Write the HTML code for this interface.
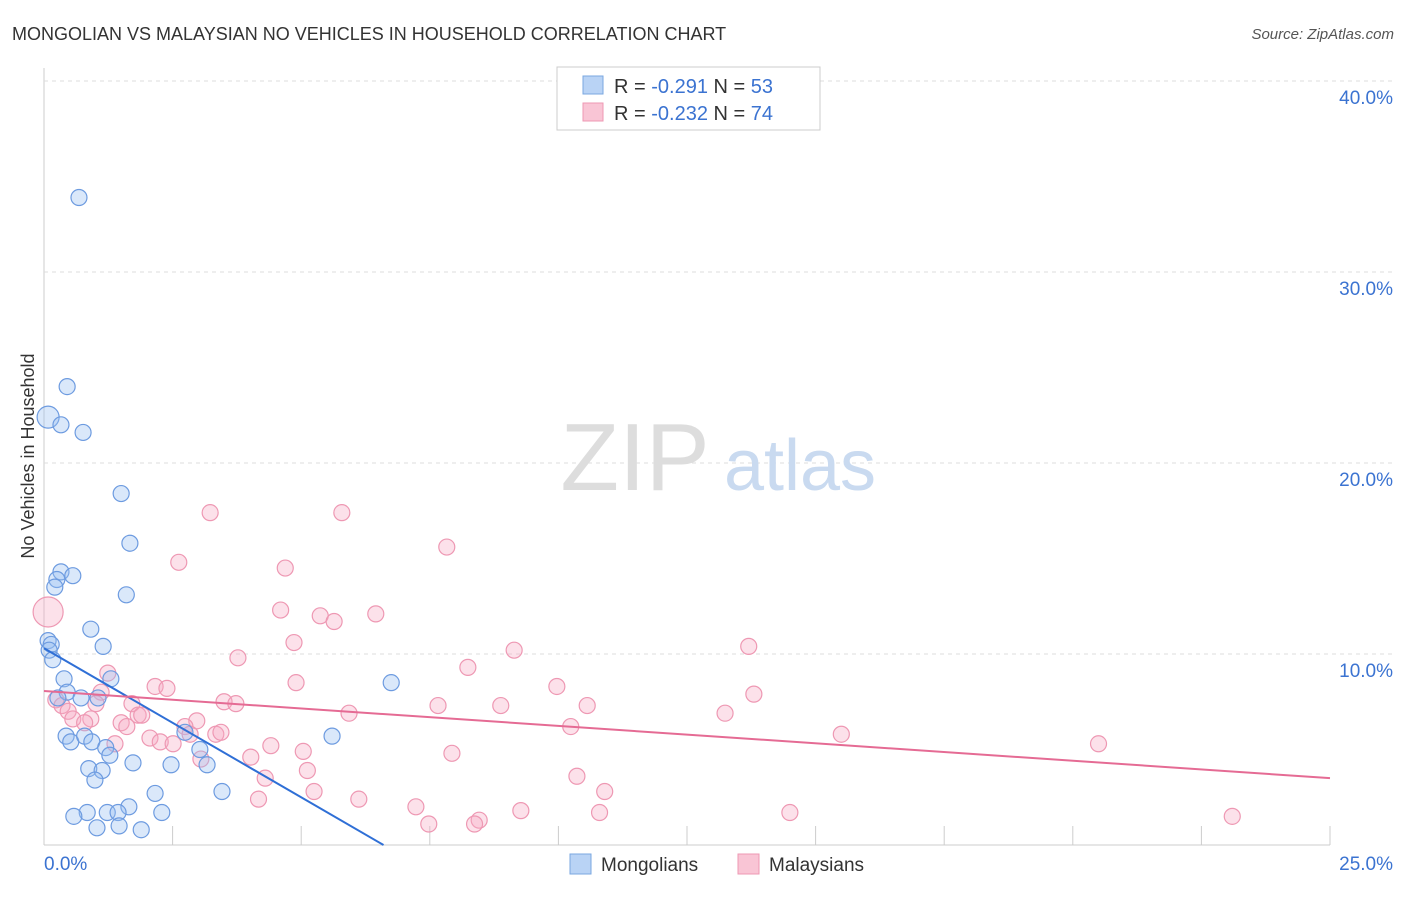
<!DOCTYPE html>
<html><head><meta charset="utf-8"><style>
body{margin:0;background:#fff;font-family:"Liberation Sans",sans-serif}
svg text{font-family:"Liberation Sans",sans-serif}
</style></head><body>
<svg id="c" width="1406" height="892">
<text x="12" y="40" font-size="18" fill="#333">MONGOLIAN VS MALAYSIAN NO VEHICLES IN HOUSEHOLD CORRELATION CHART</text>
<text x="1394" y="39" font-size="15" fill="#555" font-style="italic" text-anchor="end">Source: ZipAtlas.com</text>
<g id="grid"></g>
<text x="635" y="490" font-size="96" fill="#ddd" font-family="Liberation Serif" text-anchor="middle">ZIP</text>
<text x="800" y="490" font-size="72" fill="#c9daf0" text-anchor="middle">atlas</text>
<text transform="translate(34,456) rotate(-90)" font-size="18" fill="#333" text-anchor="middle">No Vehicles in Household</text>
<g id="pts"></g>
<g>
<rect x="557" y="67" width="263" height="63" fill="#fff" stroke="#ccc"/>
<rect x="583" y="76" width="20" height="18" fill="#b9d3f5" stroke="#7aa7e0"/>
<rect x="583" y="103" width="20" height="18" fill="#f9c5d5" stroke="#ee98b3"/>
<text x="614" y="93" font-size="20" fill="#333">R = <tspan fill="#3b73d1">-0.291</tspan>   N = <tspan fill="#3b73d1">53</tspan></text>
<text x="614" y="120" font-size="20" fill="#333">R = <tspan fill="#3b73d1">-0.232</tspan>   N = <tspan fill="#3b73d1">74</tspan></text>
</g>
<g>
<rect x="570" y="854" width="21" height="20" fill="#b9d3f5" stroke="#7aa7e0"/>
<text x="601" y="871" font-size="19" fill="#333">Mongolians</text>
<rect x="738" y="854" width="21" height="20" fill="#f9c5d5" stroke="#ee98b3"/>
<text x="769" y="871" font-size="19" fill="#333">Malaysians</text>
</g>
</svg>
<script>
const yTicks=[10,20,30,40];
const yTickLabels=["10.0%","20.0%","30.0%","40.0%"];
const xTickLabels=["0.0%","25.0%"];
const blueX=[0.68,0.45,0.08,0.33,0.76,1.5,1.67,0.33,0.56,0.25,0.21,1.6,0.91,0.08,0.14,1.15,0.1,0.17,0.39,1.3,6.75,0.45,0.27,1.05,0.72,0.43,0.52,0.79,0.93,5.6,2.74,1.2,3.03,1.28,1.73,2.47,3.17,0.87,1.13,0.99,3.46,2.16,1.65,1.23,0.84,1.44,2.29,0.58,1.03,1.46,1.89];
const blueY=[33.9,24.0,22.4,22.0,21.6,18.4,15.8,14.3,14.1,13.9,13.5,13.1,11.3,10.7,10.5,10.4,10.2,9.7,8.7,8.7,8.5,8.0,7.7,7.7,7.7,5.7,5.4,5.7,5.4,5.7,5.9,5.1,5.0,4.7,4.3,4.2,4.2,4.0,3.9,3.4,2.8,2.7,2.0,1.7,1.7,1.7,1.7,1.5,0.9,1.0,0.8];
const pinkX=[0.08,3.23,5.79,7.83,2.62,4.69,4.6,5.37,5.64,6.45,4.86,9.14,13.7,3.77,8.24,1.24,4.9,9.97,2.16,2.39,13.8,1.11,0.23,0.35,3.5,3.73,1.71,1.01,7.66,8.88,10.56,0.47,5.93,13.24,0.56,0.91,1.83,1.9,1.5,0.79,2.97,1.61,2.74,10.24,3.34,3.44,2.84,2.06,2.26,2.51,15.5,20.5,1.38,4.41,5.04,7.93,3.05,4.02,5.12,4.3,10.36,5.25,10.9,4.17,6.12,7.23,9.27,10.8,14.5,23.1,8.46,8.37,7.48];
const pinkY=[12.2,17.4,17.4,15.6,14.8,14.5,12.3,12.0,11.7,12.1,10.6,10.2,10.4,9.8,9.3,9.0,8.5,8.3,8.3,8.2,7.9,8.0,7.6,7.3,7.5,7.4,7.4,7.4,7.3,7.3,7.3,7.0,6.9,6.9,6.6,6.6,6.8,6.8,6.4,6.4,6.5,6.2,6.2,6.2,5.8,5.9,5.8,5.6,5.4,5.3,5.8,5.3,5.3,5.2,4.9,4.8,4.5,4.6,3.9,3.5,3.6,2.8,2.8,2.4,2.4,2.0,1.8,1.7,1.7,1.5,1.3,1.1,1.1];
const blueTrend=[0,10.3,6.6,0];
const pinkTrend=[0,8.06,25,3.5];
const X=v=>44+v*51.44, Y=v=>845-v*19.1;
const NS="http://www.w3.org/2000/svg";
const grid=document.getElementById('grid'), pts=document.getElementById('pts'), svg=document.getElementById('c');
function mk(tag,at,parent){const e=document.createElementNS(NS,tag);for(const k in at)e.setAttribute(k,at[k]);parent.appendChild(e);return e;}
let ax=mk('line',{x1:44,y1:68,x2:44,y2:845,stroke:'#ccc'},grid);


let bx=mk('line',{x1:44,y1:845,x2:1330,y2:845,stroke:'#ccc'},grid);


yTicks.forEach((t,i)=>{
 let g=mk('line',{x1:44,y1:Y(t),x2:1394,y2:Y(t),stroke:'#ddd','stroke-dasharray':'4,4'},grid);
 
 
 let tx=mk('text',{x:1393,y:Y(t)+23,'font-size':19,fill:'#3b73d1','text-anchor':'end'},grid);
 tx.textContent=yTickLabels[i];
 
 
});
for(let i=0;i<=10;i++){let v=i*2.5;let l=mk('line',{x1:X(v),y1:845,x2:X(v),y2:i==0?845:826,stroke:'#ccc'},grid);
 
 }
xTickLabels.forEach((s,i)=>{let tx=mk('text',{x:i?1393:44,y:870,'font-size':19,fill:'#3b73d1','text-anchor':i?'end':'start'},grid);
 tx.textContent=s;
 
 });
pinkX.forEach((v,i)=>{let c=mk('circle',{cx:X(v),cy:Y(pinkY[i]),r:i==0?15:8,fill:'rgba(246,170,195,0.35)',stroke:'#ee98b3','stroke-width':1.2},pts);
 
 });
blueX.forEach((v,i)=>{let c=mk('circle',{cx:X(v),cy:Y(blueY[i]),r:i==2?11:8,fill:'rgba(150,190,240,0.35)',stroke:'#6d9be0','stroke-width':1.2},pts);
 
 });
let bt=mk('line',{x1:X(blueTrend[0]),y1:Y(blueTrend[1]),x2:X(blueTrend[2]),y2:Y(blueTrend[3]),stroke:'#2f6fd6','stroke-width':2},pts);


let pt=mk('line',{x1:X(pinkTrend[0]),y1:Y(pinkTrend[1]),x2:X(pinkTrend[2]),y2:Y(pinkTrend[3]),stroke:'#e56b94','stroke-width':2},pts);


</script>
</body></html>
